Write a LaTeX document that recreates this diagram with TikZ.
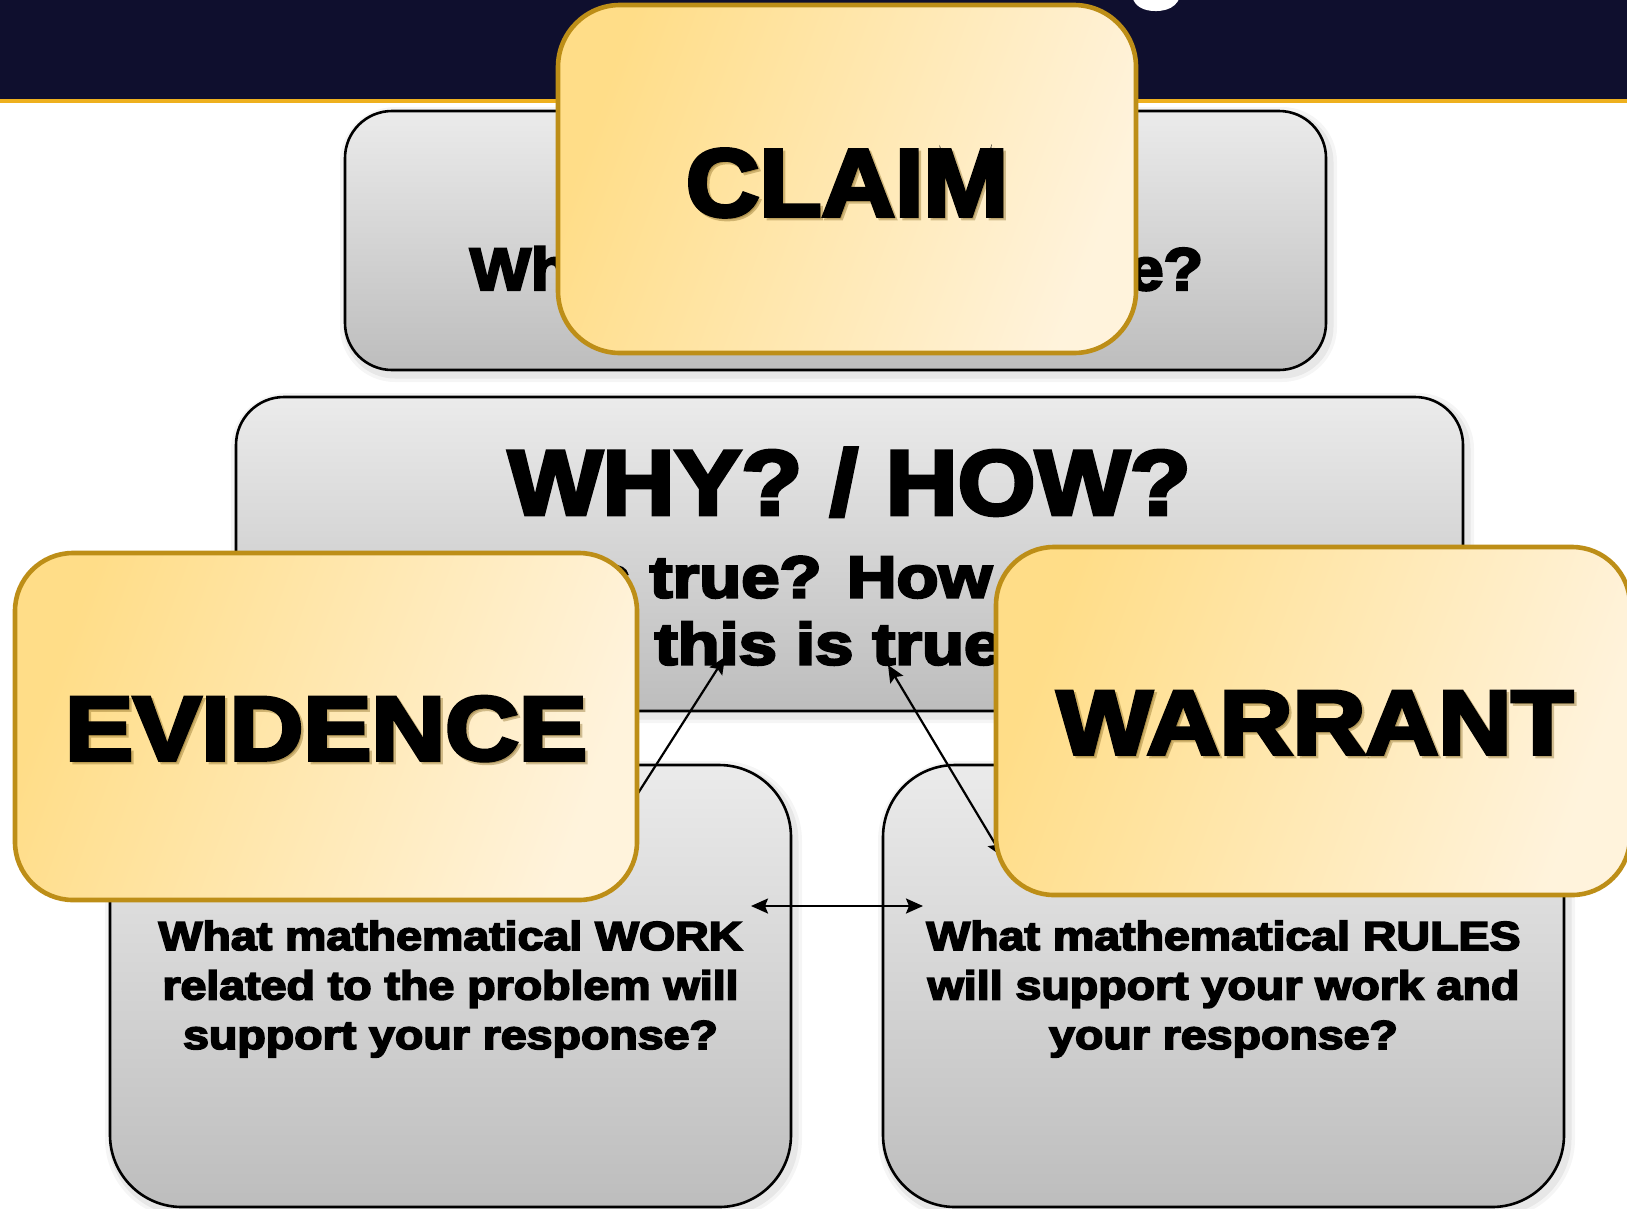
\documentclass[tikz,border=0pt]{standalone}
\usepackage{fontspec}
\usepackage{graphicx}
\setmainfont{Liberation Sans}
\newfontfamily\heavy{Liberation Sans}[BoldFeatures={FakeBold=4}]
\usetikzlibrary{arrows.meta}

\definecolor{navy}{HTML}{0F0F2E}
\definecolor{bannergold}{HTML}{EEB01E}
\definecolor{goldedge}{HTML}{BD8E17}
\definecolor{goldA}{HTML}{FFDD88}
\definecolor{goldB}{HTML}{FFF3DC}
\definecolor{boxtop}{HTML}{EBEBEB}
\definecolor{boxbot}{HTML}{BDBDBD}
\definecolor{shadebrown}{HTML}{7A5A10}

\newcommand\setsz[2]{\fontsize{#1}{#2}\selectfont}

\begin{document}
\begin{tikzpicture}[x=1pt,y=-1pt,
  >={Stealth[length=17pt, width=15pt, inset=3pt]},
  graybox/.style={draw=black, line width=2.6pt, rounded corners=#1,
    top color=boxtop, bottom color=boxbot, inner sep=0pt, outer sep=0pt,
    preaction={draw=black, draw opacity=0.04, line width=16pt,
      transform canvas={xshift=3pt,yshift=-4pt}},
    preaction={draw=black, draw opacity=0.06, line width=9pt,
      transform canvas={xshift=3pt,yshift=-4pt}}},
  goldbox/.style={draw=goldedge, line width=4.6pt, rounded corners=#1,
    left color=goldA, right color=goldB, shading angle=70,
    inner sep=0pt, outer sep=0pt},
  lbl/.style={inner sep=0pt, outer sep=0pt, anchor=base, font=\heavy\bfseries},
  glow/.style={lbl, text=shadebrown, text opacity=0.35},
  link/.style={draw=black, line width=2.2pt}
]
\useasboundingbox (0,0) rectangle (1627,1208);
\clip (0,0) rectangle (1627,1208);

% title banner
\fill[navy] (0,0) rectangle (1627,99);
\fill[bannergold] (0,99) rectangle (1627,102.5);
\node[lbl, text=white, font=\heavy\bfseries\setsz{95}{100}] (titletail) at (1157,-11) {g};

% claim question
\node[graybox=47pt, minimum width=981pt, minimum height=259pt] (respbox) at (835.5,240.5) {};
\node[lbl] (resptext) at (836.5,290) {\setsz{60}{70}\scalebox{1.078}[1]{What is your response?}};

% claim header
\node[goldbox=62pt, minimum width=578pt, minimum height=348pt] (claim) at (847,179) {};
\node[glow] (claimshade) at (849.5,218.5) {\setsz{96}{100}\scalebox{1.06}[1]{CLAIM}};
\node[lbl] (claimtext) at (847,216) {\setsz{96}{100}\scalebox{1.06}[1]{CLAIM}};

% why / how box
\node[graybox=48pt, minimum width=1227pt, minimum height=314pt] (whybox) at (849.5,554) {};
\node[lbl] (whytext) at (849.5,514.6) {\setsz{92}{100}\scalebox{1.086}[1]{WHY? / HOW?}};
\node[lbl] (whydetail) at (849.5,597.5) {\setsz{59}{67}\scalebox{1.165}[1]{%
  \begin{tabular}[t]{@{}c@{}}Why is this true? How do you know\\ this is true?\end{tabular}}};

% evidence and warrant questions
\node[graybox=72pt, minimum width=681pt, minimum height=442pt] (workbox) at (450.5,986) {};
\node[lbl] (worktext) at (450.5,950) {\setsz{40.5}{49.5}\scalebox{1.148}[1]{%
  \begin{tabular}[t]{@{}c@{}}What mathematical WORK\\ related to the problem will\\ support your response?\end{tabular}}};
\node[graybox=72pt, minimum width=681pt, minimum height=442pt] (rulesbox) at (1223.5,986) {};
\node[lbl] (rulestext) at (1223.5,950) {\setsz{40.5}{49.5}\scalebox{1.148}[1]{%
  \begin{tabular}[t]{@{}c@{}}What mathematical RULES\\ will support your work and\\ your response?\end{tabular}}};

% connectors
\coordinate (evfoot) at (603,848);
\coordinate (evhead) at (725,657);
\coordinate (wafoot) at (1003,857);
\coordinate (wahead) at (888,665);
\coordinate (worktip) at (751,906);
\coordinate (rulestip) at (923,906);
\draw[link, ->] (evfoot) -- (evhead);
\draw[link, <->] (wafoot) -- (wahead);
\draw[link, <->] (worktip) -- (rulestip);

% evidence header
\node[goldbox=58pt, minimum width=622pt, minimum height=347pt] (evidence) at (326,726.5) {};
\node[glow] (evshade) at (328.5,762.5) {\setsz{91}{100}\scalebox{1.122}[1]{EVIDENCE}};
\node[lbl] (evtext) at (326,760) {\setsz{91}{100}\scalebox{1.122}[1]{EVIDENCE}};

% warrant header
\node[goldbox=58pt, minimum width=634pt, minimum height=348pt] (warrant) at (1313,721) {};
\node[glow] (washade) at (1317.5,756.5) {\setsz{91}{100}\scalebox{1.11}[1]{WARRANT}};
\node[lbl] (watext) at (1315,754) {\setsz{91}{100}\scalebox{1.11}[1]{WARRANT}};
\end{tikzpicture}
\end{document}
